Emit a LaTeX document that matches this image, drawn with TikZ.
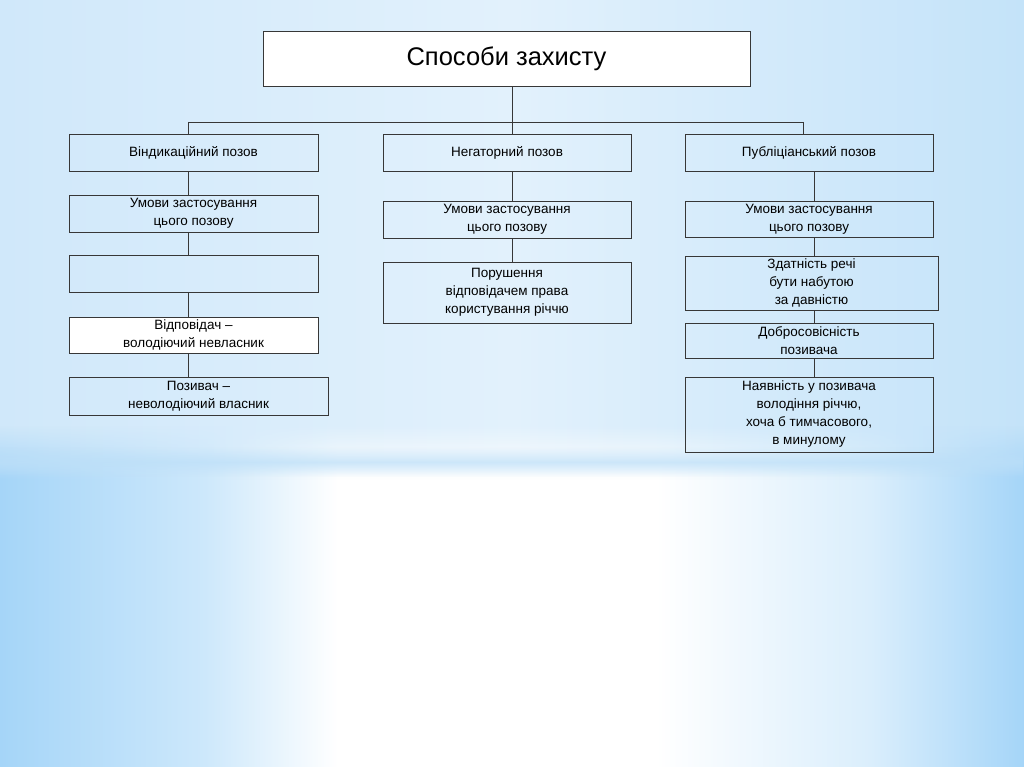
\documentclass[tikz,border=0pt]{standalone}
\usepackage{fontspec}
\setmainfont{Liberation Sans}
\usepackage{tikz}
\usetikzlibrary{calc,positioning,fadings}
\definecolor{bgedge}{RGB}{165,213,248}
\definecolor{bgsoft}{RGB}{205,232,251}
\definecolor{bgsoftr}{RGB}{218,238,252}
\definecolor{bgtopl}{RGB}{208,232,250}
\definecolor{bgtopm}{RGB}{226,241,252}
\definecolor{bgtopr}{RGB}{196,227,249}
\definecolor{bgband}{RGB}{188,223,248}
\definecolor{linecol}{RGB}{55,55,55}
\pgfdeclarehorizontalshading{lowbg}{100bp}{color(0bp)=(bgedge); color(25bp)=(bgedge);
  color(35bp)=(bgsoft); color(41.5bp)=(white); color(57bp)=(white);
  color(67.5bp)=(bgsoftr); color(75bp)=(bgedge); color(100bp)=(bgedge)}
\tikzfading[name=topfade, top color=transparent!0, bottom color=transparent!100]
\tikzfading[name=bandfade, top color=transparent!100, bottom color=transparent!100, middle color=transparent!30]
\tikzset{
    pbox/.style={
    rectangle,draw=linecol,line width=0.9pt,align=center,inner sep=0pt,
    font=\fontsize{13.5}{18}\selectfont
    },
    wbox/.style={
    pbox,fill=white
    },
    titlebox/.style={
    rectangle,draw=linecol,line width=0.9pt,fill=white,align=center,
    font=\fontsize{25.5}{30}\selectfont
    },
    conn/.style={
    draw=linecol,line width=0.9pt
    },
    upperbg/.style={
    left color=bgtopl, right color=bgtopr, middle color=bgtopm
    },
}
\begin{document}
\begin{tikzpicture}[x=1pt, y=-1pt]
   \useasboundingbox (0,0) rectangle (1024,767);

   %background
   \shade[shading=lowbg] (0,0) rectangle (1024,767);
   \shade[upperbg] (0,0) rectangle (1024,425);
   \shade[upperbg, path fading=topfade] (0,425) rectangle (1024,480);
   \fill[bgband, path fading=bandfade] (0,447) rectangle (1024,477);

   \node[titlebox, minimum width=487, minimum height=55] (top) at (506.5,58.5) {Способи захисту};

   %vindication
   \node[pbox, minimum width=249, minimum height=37] (vind) at (193.5,152.5) {Віндикаційний позов};
   \node[pbox, minimum width=249, minimum height=37] (vumovy) at (193.5,213.5) {Умови застосування\\цього позову};
   \node[pbox, minimum width=249, minimum height=37] (vempty) at (193.5,273.5) {};
   \node[wbox, minimum width=249, minimum height=36] (vvidp) at (193.5,335) {Відповідач –\\володіючий невласник};
   \node[pbox, minimum width=259, minimum height=38] (vpoz) at (198.5,396) {Позивач –\\неволодіючий власник};

   %negatory
   \node[pbox, minimum width=248, minimum height=37] (neg) at (507,152.5) {Негаторний позов};
   \node[pbox, minimum width=248, minimum height=37] (numovy) at (507,219.5) {Умови застосування\\цього позову};
   \node[pbox, minimum width=248, minimum height=61] (nporush) at (507,292.5) {Порушення\\відповідачем права\\користування річчю};

   %publician
   \node[pbox, minimum width=248, minimum height=37] (publ) at (809,152.5) {Публіціанський позов};
   \node[pbox, minimum width=248, minimum height=36] (pumovy) at (809,219.5) {Умови застосування\\цього позову};
   \node[pbox, minimum width=253, minimum height=54] (pzdat) at (811.5,283) {Здатність речі\\бути набутою\\за давністю};
   \node[pbox, minimum width=248, minimum height=35] (pdobro) at (809,340.5) {Добросовісність\\позивача};
   \node[pbox, minimum width=248, minimum height=75] (pnayav) at (809,414.5) {Наявність у позивача\\володіння річчю,\\хоча б тимчасового,\\в минулому};

   \coordinate (colL) at (188,0);
   \coordinate (colM) at (512,0);
   \coordinate (colR) at (814,0);
   \coordinate (barL) at (188,122);
   \coordinate (barR) at (803,122);

  \path[conn]
    (top.south -| colM) edge (neg.north -| colM)
    (barL) edge (barR)
    (barL) edge (vind.north -| barL)
    (barR) edge (publ.north -| barR)

    %vindication
    (vind.south -| colL) edge (vumovy.north -| colL)
    (vumovy.south -| colL) edge (vempty.north -| colL)
    (vempty.south -| colL) edge (vvidp.north -| colL)
    (vvidp.south -| colL) edge (vpoz.north -| colL)

    %negatory
    (neg.south -| colM) edge (numovy.north -| colM)
    (numovy.south -| colM) edge (nporush.north -| colM)

    %publician
    (publ.south -| colR) edge (pumovy.north -| colR)
    (pumovy.south -| colR) edge (pzdat.north -| colR)
    (pzdat.south -| colR) edge (pdobro.north -| colR)
    (pdobro.south -| colR) edge (pnayav.north -| colR);
  \end{tikzpicture}
\end{document}
